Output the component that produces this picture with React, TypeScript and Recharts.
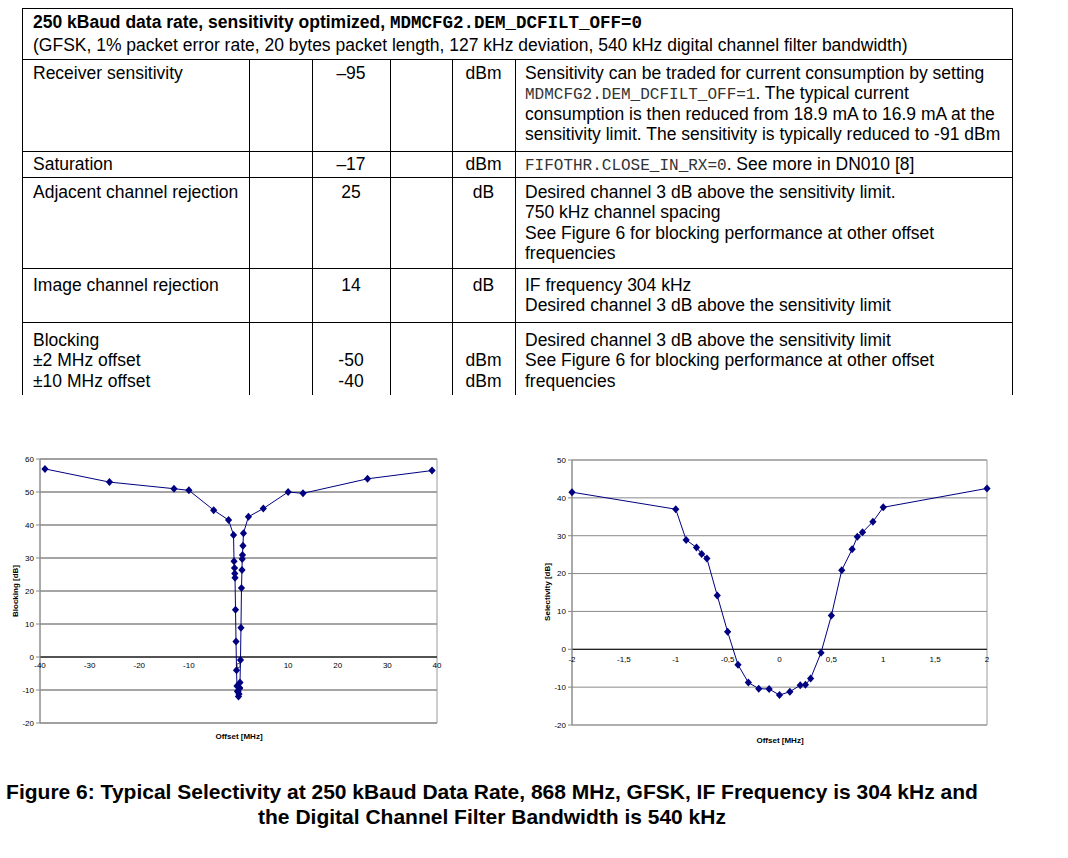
import React from 'react';
import {
  LineChart,
  Line,
  XAxis,
  YAxis,
  CartesianGrid,
  ReferenceLine,
  ReferenceDot,
  ReferenceArea,
} from 'recharts';

// ---------- DATA ----------
const blockingOffsets = [
  -39, -26, -13, -10, -5, -2, -1, -0.9, -0.8, -0.75, -0.7, -0.6, -0.5, -0.4, -0.3, -0.2, -0.1, 0,
  0.1, 0.2, 0.25, 0.3, 0.4, 0.5, 0.6, 0.7, 0.75, 0.8, 0.9, 1, 2, 5, 10, 13, 26, 39,
];
const blockingValues = [
  57, 53, 51, 50.5, 44.5, 41.5, 37, 29, 27, 25.3, 24, 14.3, 4.7, -4, -8.8, -10.4, -10.5, -12,
  -11.2, -9.5, -9.4, -7.7, -0.9, 8.9, 20.9, 26.4, 29.7, 30.9, 33.7, 37.5, 42.5, 45, 50, 49.6, 54, 56.5,
];
const blockingXTicks = [-40, -30, -20, -10, 0, 10, 20, 30, 40];
const blockingYTicks = [-20, -10, 0, 10, 20, 30, 40, 50, 60];

const selectivityOffsets = [
  -2, -1, -0.9, -0.8, -0.75, -0.7, -0.6, -0.5, -0.4, -0.3, -0.2, -0.1, 0, 0.1, 0.2, 0.25, 0.3,
  0.4, 0.5, 0.6, 0.7, 0.75, 0.8, 0.9, 1, 2,
];
const selectivityValues = [
  41.5, 37, 28.9, 26.9, 25.2, 24, 14.2, 4.6, -4.1, -8.8, -10.4, -10.5, -12.1, -11.2, -9.5, -9.4,
  -7.7, -0.9, 8.9, 20.9, 26.4, 29.7, 30.9, 33.7, 37.5, 42.5,
];
const selectivityXTicks = [-2, -1.5, -1, -0.5, 0, 0.5, 1, 1.5, 2];
const selectivityYTicks = [-20, -10, 0, 10, 20, 30, 40, 50];

const blockingYTitle = 'Blocking [dB]';
const selectivityYTitle = 'Selectivity [dB]';
const offsetTitle = 'Offset [MHz]';

const captionLines = [
  'Figure 6: Typical Selectivity at 250 kBaud Data Rate, 868 MHz, GFSK, IF Frequency is 304 kHz and',
  'the Digital Channel Filter Bandwidth is 540 kHz',
];

// table text
const headerBold = '250 kBaud data rate, sensitivity optimized, ';
const headerMono = 'MDMCFG2.DEM_DCFILT_OFF=0';
const headerSub =
  '(GFSK, 1% packet error rate, 20 bytes packet length, 127 kHz deviation, 540 kHz digital channel filter bandwidth)';
const paramCol = [
  ['Receiver sensitivity'],
  ['Saturation'],
  ['Adjacent channel rejection'],
  ['Image channel rejection'],
  ['Blocking', '±2 MHz offset', '±10 MHz offset'],
];
const typCol = [['–95'], ['–17'], ['25'], ['14'], ['', '-50', '-40']];
const unitCol = [['dBm'], ['dBm'], ['dB'], ['dB'], ['', 'dBm', 'dBm']];
type Seg = [string, boolean];
const condCol: Seg[][][] = [
  [
    [['Sensitivity can be traded for current consumption by setting', false]],
    [
      ['MDMCFG2.DEM_DCFILT_OFF=1', true],
      ['. The typical current', false],
    ],
    [['consumption is then reduced from 18.9 mA to 16.9 mA at the', false]],
    [['sensitivity limit. The sensitivity is typically reduced to -91 dBm', false]],
  ],
  [
    [
      ['FIFOTHR.CLOSE_IN_RX=0', true],
      ['. See more in DN010 [8]', false],
    ],
  ],
  [
    [['Desired channel 3 dB above the sensitivity limit.', false]],
    [['750 kHz channel spacing', false]],
    [['See Figure 6 for blocking performance at other offset', false]],
    [['frequencies', false]],
  ],
  [
    [['IF frequency 304 kHz', false]],
    [['Desired channel 3 dB above the sensitivity limit', false]],
  ],
  [
    [['Desired channel 3 dB above the sensitivity limit', false]],
    [['See Figure 6 for blocking performance at other offset', false]],
    [['frequencies', false]],
  ],
];

// ---------- LAYOUT ----------
const SANS = "Arial, 'Liberation Sans', sans-serif";
const MONO = "'Liberation Mono', 'Courier New', monospace";
const NAVY = '#000080';
const colX = [22, 249, 312, 390, 452, 515, 1012];
const tableTop = 8;
const headerBottom = 59;
const rowTops = [59, 151, 177, 268, 322];
const rowPad = [4, 3, 5, 7, 8];
const tableBottom = 395;
const LH = 20.3;
const FS = 17.5;

const Diamond = (props: any) => {
  const { cx, cy, index } = props;
  if (cx == null || cy == null) return <g key={`d-${index}`} />;
  return (
    <path
      key={`d-${index}`}
      d={`M${cx},${cy - 4}L${cx + 3.6},${cy}L${cx},${cy + 4}L${cx - 3.6},${cy}Z`}
      fill={NAVY}
    />
  );
};

const fmtComma = (v: number) => String(v).replace('.', ',');

type ChartProps = {
  xs: number[];
  ys: number[];
  xTicks: number[];
  yTicks: number[];
  width: number;
  height: number;
  margin: { top: number; right: number; bottom: number; left: number };
  yAxisWidth: number;
  gridColor: string;
  fmt: (v: number) => string;
  labelOffset: number;
};

function SeriesChart(p: ChartProps) {
  const data = p.xs.map((x, i) => ({ x, y: p.ys[i] }));
  const xMin = p.xTicks[0];
  const xMax = p.xTicks[p.xTicks.length - 1];
  const yMin = p.yTicks[0];
  const yMax = p.yTicks[p.yTicks.length - 1];
  return (
    <LineChart width={p.width} height={p.height} data={data} margin={p.margin}>
      <CartesianGrid vertical={false} stroke={p.gridColor} strokeWidth={1} />
      <ReferenceArea
        x1={xMin}
        x2={xMax}
        y1={yMin}
        y2={yMax}
        fill="none"
        fillOpacity={0}
        stroke="#9a9a9a"
        strokeWidth={1}
      />
      <XAxis type="number" dataKey="x" domain={[xMin, xMax]} ticks={p.xTicks} hide />
      <YAxis
        type="number"
        domain={[yMin, yMax]}
        ticks={p.yTicks}
        interval={0}
        width={p.yAxisWidth}
        tickSize={4}
        tickMargin={2}
        tick={{ fontSize: 8, fill: '#000', fontFamily: SANS }}
        tickLine={{ stroke: '#888' }}
        axisLine={{ stroke: '#888' }}
      />
      <ReferenceLine y={0} stroke="#000" strokeWidth={1} />
      {p.xTicks.map((t) => (
        <ReferenceDot
          key={`xt-${t}`}
          x={t}
          y={0}
          r={0}
          fill="none"
          stroke="none"
          label={{
            value: p.fmt(t),
            position: 'bottom',
            offset: p.labelOffset,
            fontSize: 8,
            fill: '#000',
            fontFamily: SANS,
          }}
        />
      ))}
      <Line
        type="linear"
        dataKey="y"
        stroke={NAVY}
        strokeWidth={1}
        dot={Diamond}
        activeDot={false}
        isAnimationActive={false}
      />
    </LineChart>
  );
}

const abs = (left: number, top: number, extra: React.CSSProperties = {}): React.CSSProperties => ({
  position: 'absolute',
  left,
  top,
  ...extra,
});

function CellLines({ lines, x0, x1, top, align }: { lines: string[]; x0: number; x1: number; top: number; align: 'left' | 'center' }) {
  return (
    <>
      {lines.map((ln, i) => (
        <div
          key={i}
          style={abs(align === 'left' ? x0 + 11 : x0, top + i * LH, {
            width: align === 'left' ? undefined : x1 - x0,
            textAlign: align,
            whiteSpace: 'nowrap',
            fontSize: FS,
            lineHeight: `${LH}px`,
          })}
        >
          {ln}
        </div>
      ))}
    </>
  );
}

export default function App() {
  const hLines = [tableTop, headerBottom, ...rowTops.slice(1)];
  return (
    <div
      style={{
        position: 'absolute',
        left: 0,
        top: 0,
        width: 1068,
        height: 858,
        background: '#fff',
        fontFamily: SANS,
        color: '#000',
        overflow: 'hidden',
      }}
    >
      {/* table borders */}
      {hLines.map((y, i) => (
        <div key={`h${i}`} style={abs(colX[0], y, { width: colX[6] - colX[0] + 1, height: 1, background: '#000' })} />
      ))}
      <div style={abs(colX[0], tableTop, { width: 1, height: tableBottom - tableTop, background: '#000' })} />
      <div style={abs(colX[6], tableTop, { width: 1, height: tableBottom - tableTop, background: '#000' })} />
      {colX.slice(1, 6).map((x, i) => (
        <div key={`v${i}`} style={abs(x, headerBottom, { width: 1, height: tableBottom - headerBottom, background: '#000' })} />
      ))}

      {/* header */}
      <div style={abs(colX[0] + 11, 12, { whiteSpace: 'nowrap', fontSize: FS, lineHeight: `${LH}px`, fontWeight: 'bold' })}>
        {headerBold}
        <span style={{ fontFamily: MONO, fontWeight: 'bold' }}>{headerMono}</span>
      </div>
      <div style={abs(colX[0] + 11, 35, { whiteSpace: 'nowrap', fontSize: FS, lineHeight: `${LH}px` })}>{headerSub}</div>

      {/* rows */}
      {rowTops.map((rt, r) => {
        const top = rt + rowPad[r];
        return (
          <React.Fragment key={`r${r}`}>
            <CellLines lines={paramCol[r]} x0={colX[0]} x1={colX[1]} top={top} align="left" />
            <CellLines lines={typCol[r]} x0={colX[2]} x1={colX[3]} top={top} align="center" />
            <CellLines lines={unitCol[r]} x0={colX[4]} x1={colX[5]} top={top} align="center" />
            {condCol[r].map((segs, i) => (
              <div
                key={`c${i}`}
                style={abs(colX[5] + 10, top + i * LH, { whiteSpace: 'nowrap', fontSize: FS, lineHeight: `${LH}px` })}
              >
                {segs.map(([t, mono], j) =>
                  mono ? (
                    <span key={j} style={{ fontFamily: MONO, fontSize: 16, color: '#333' }}>
                      {t}
                    </span>
                  ) : (
                    <span key={j}>{t}</span>
                  )
                )}
              </div>
            ))}
          </React.Fragment>
        );
      })}

      {/* left chart */}
      <div style={abs(0, 440)}>
        <SeriesChart
          xs={blockingOffsets}
          ys={blockingValues}
          xTicks={blockingXTicks}
          yTicks={blockingYTicks}
          width={460}
          height={320}
          margin={{ top: 19, right: 23, bottom: 37, left: 0 }}
          yAxisWidth={40}
          gridColor="#4a4a4a"
          fmt={(v) => String(v)}
          labelOffset={5}
        />
      </div>
      <div
        style={abs(15, 591, {
          transform: 'translate(-50%, -50%) rotate(-90deg)',
          fontSize: 8,
          fontWeight: 'bold',
          whiteSpace: 'nowrap',
        })}
      >
        {blockingYTitle}
      </div>
      <div style={abs(239, 736, { transform: 'translate(-50%, -50%)', fontSize: 8, fontWeight: 'bold', whiteSpace: 'nowrap' })}>
        {offsetTitle}
      </div>

      {/* right chart */}
      <div style={abs(520, 440)}>
        <SeriesChart
          xs={selectivityOffsets}
          ys={selectivityValues}
          xTicks={selectivityXTicks}
          yTicks={selectivityYTicks}
          width={490}
          height={320}
          margin={{ top: 20, right: 23, bottom: 35, left: 0 }}
          yAxisWidth={52}
          gridColor="#8a8a8a"
          fmt={fmtComma}
          labelOffset={7}
        />
      </div>
      <div
        style={abs(547, 592, {
          transform: 'translate(-50%, -50%) rotate(-90deg)',
          fontSize: 8,
          fontWeight: 'bold',
          whiteSpace: 'nowrap',
        })}
      >
        {selectivityYTitle}
      </div>
      <div style={abs(780, 740, { transform: 'translate(-50%, -50%)', fontSize: 8, fontWeight: 'bold', whiteSpace: 'nowrap' })}>
        {offsetTitle}
      </div>

      {/* caption */}
      <div
        style={abs(0, 779, {
          width: 984,
          textAlign: 'center',
          fontSize: 21,
          fontWeight: 'bold',
          lineHeight: '25px',
          whiteSpace: 'nowrap',
        })}
      >
        {captionLines.map((l, i) => (
          <div key={i}>{l}</div>
        ))}
      </div>
    </div>
  );
}
